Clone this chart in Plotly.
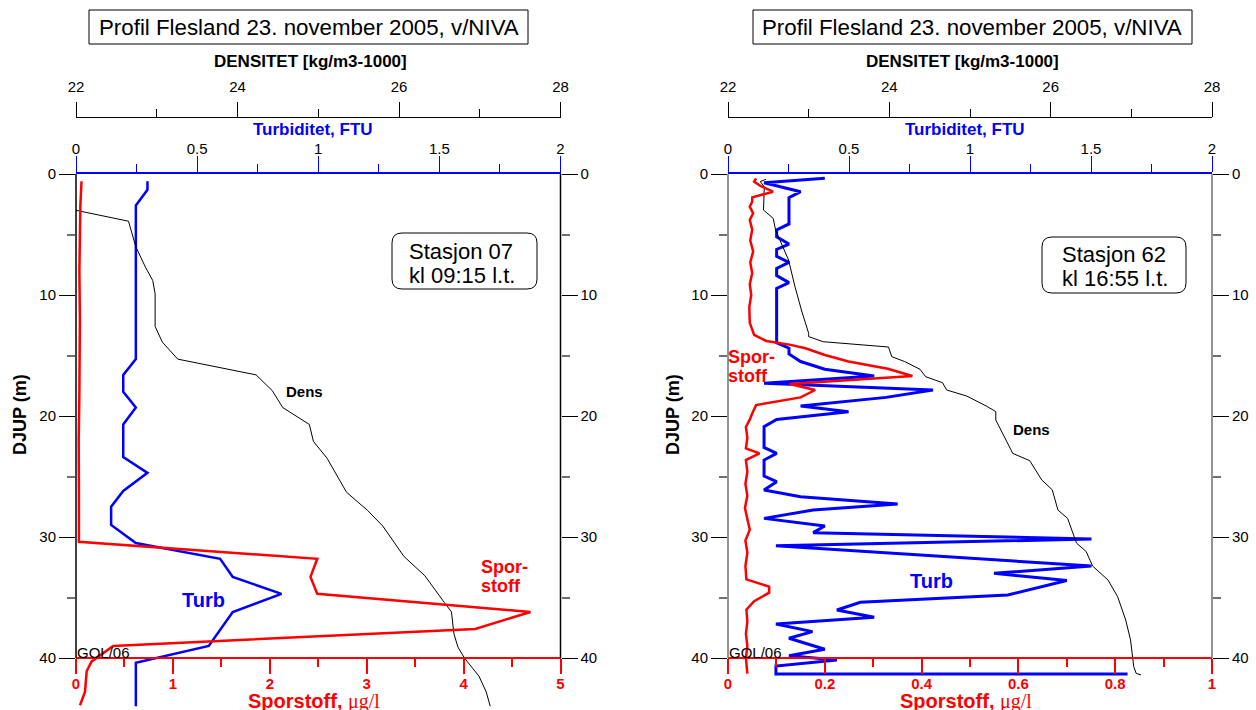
import plotly.graph_objects as go

W, H = 1256, 710
FONT = "Liberation Sans, Arial, sans-serif"

# Stasjon 07 (kl 09:15)
dens_depth_07 = [0.6, 1.2, 2.6, 3.9, 6.0, 7.7, 8.8, 9.9, 12.6, 13.9, 15.3, 16.6, 17.9, 19.3, 20.7,
                 22.1, 23.5, 26.3, 27.8, 29.1, 31.6, 33.2, 35.4, 36.2, 38.0, 39.1, 40.0, 41.5, 42.8, 44.0]
dens_07 = [21.93, 21.93, 21.71, 22.65, 22.74, 22.86, 22.95, 22.98, 22.98, 23.07, 23.26, 24.23, 24.43, 24.56, 24.89,
           24.94, 25.11, 25.35, 25.61, 25.80, 26.06, 26.32, 26.56, 26.65, 26.68, 26.73, 26.81, 26.99, 27.08, 27.13]

turb_depth_07 = [0.6, 1.3, 2.6, 15.3, 16.6, 18.0, 19.3, 20.7, 23.4, 24.7, 26.2, 27.5, 29.0, 30.5,
                 31.8, 33.3, 34.7, 36.2, 39.0, 40.4, 44.0]
turb_07 = [0.295, 0.295, 0.247, 0.247, 0.195, 0.195, 0.247, 0.195, 0.195, 0.295, 0.195, 0.145, 0.145, 0.247,
           0.595, 0.647, 0.848, 0.647, 0.548, 0.247, 0.247]

spor_depth_07 = [0.6, 2.6, 8.0, 12.0, 18.0, 22.0, 26.0, 30.4, 31.8, 33.3, 34.7, 36.2, 37.6, 39.0,
                 40.3, 41.1, 42.8, 43.9]
spor_07 = [0.057, 0.045, 0.035, 0.040, 0.035, 0.028, 0.030, 0.030, 2.49, 2.42, 2.49, 4.69, 4.12, 0.383,
           0.16, 0.11, 0.093, 0.041]

# Stasjon 62 (kl 16:55)
dens_depth_62 = [0.44, 0.63, 1.05, 2.98, 3.66, 4.63, 7.1, 9.3, 11.24, 13.17, 13.44, 13.86, 14.3, 15.1,
                 15.5, 16.14, 16.75, 17.25, 17.85, 18.35, 19.17, 19.64, 20.33, 21.7, 23.09, 23.69, 25.29,
                 26.1, 27.77, 28.46, 30.5, 31.2, 32.4, 33.55, 34.93, 36.86, 38.5, 40.72, 41.27, 41.4]
dens_62 = [22.47, 22.40, 22.45, 22.44, 22.56, 22.59, 22.75, 22.83, 22.91, 23.0, 23.0, 23.18, 23.99, 24.03,
           24.19, 24.38, 24.45, 24.66, 24.71, 24.96, 25.2, 25.32, 25.32, 25.42, 25.53, 25.74, 25.89,
           26.02, 26.09, 26.21, 26.32, 26.44, 26.52, 26.71, 26.83, 26.93, 26.99, 27.03, 27.06, 27.12]

turb_depth_62 = [0.36, 0.72, 1.46, 1.96, 4.13, 4.63, 5.2, 5.79, 6.23, 6.8, 7.3, 7.8, 8.4, 8.98, 9.45,
                 13.94, 14.4, 14.88, 15.5, 16.14, 16.7, 17.3, 17.85, 18.46, 19.17, 19.64, 20.28, 20.88,
                 22.6, 23.09, 23.64, 24.96, 25.43, 26.12, 26.67, 27.27, 27.77, 28.46, 29.09, 29.64, 30.17,
                 30.72, 32.4, 33.0, 33.6, 34.8, 35.4, 36.03, 36.64, 37.19, 37.82, 38.37, 39.28, 39.81,
                 40.17, 40.66, 41.32, 41.32]
turb_62 = [0.40, 0.149, 0.30, 0.252, 0.252, 0.201, 0.201, 0.252, 0.201, 0.201, 0.252, 0.201, 0.201, 0.252, 0.201,
           0.201, 0.252, 0.252, 0.30, 0.40, 0.604, 0.149, 0.847, 0.653, 0.30, 0.498, 0.201, 0.149,
           0.149, 0.201, 0.149, 0.149, 0.201, 0.149, 0.30, 0.701, 0.352, 0.149, 0.40, 0.352, 1.502,
           0.198, 1.502, 1.099, 1.40, 1.156, 0.547, 0.45, 0.604, 0.198, 0.349, 0.252, 0.40, 0.252,
           0.45, 0.198, 0.198, 1.651]

spor_depth_62 = [0.36, 0.63, 0.99, 1.46, 1.93, 2.29, 2.7, 3.25, 3.8, 4.6, 5.5, 6.4, 7.3, 8.2, 9.1, 10.0,
                 11.0, 12.3, 13.3, 13.8, 14.1, 14.4, 14.96, 15.5, 16.1, 16.7, 17.36, 17.85, 18.46, 19.1,
                 19.8, 20.3, 20.9, 21.8, 22.67, 23.09, 23.64, 24.6, 25.6, 26.6, 27.6, 28.5, 29.4, 30.3,
                 31.3, 32.4, 33.5, 34.1, 34.6, 35.3, 36.0, 37.0, 38.0, 39.0, 40.0, 41.3]
spor_62 = [0.058, 0.054, 0.067, 0.093, 0.050, 0.050, 0.045, 0.052, 0.045, 0.050, 0.046, 0.052, 0.046, 0.050,
           0.045, 0.048, 0.044, 0.045, 0.054, 0.079, 0.127, 0.16, 0.20, 0.249, 0.33, 0.381, 0.127, 0.18,
           0.150, 0.058, 0.050, 0.045, 0.037, 0.040, 0.037, 0.065, 0.037, 0.040, 0.036, 0.040, 0.035,
           0.040, 0.045, 0.036, 0.040, 0.036, 0.038, 0.085, 0.085, 0.054, 0.038, 0.040, 0.037, 0.040,
           0.037, 0.040]

depth_ticks = [0, 10, 20, 30, 40]
depth_minor = [5, 15, 25, 35]


def px(x):
    return x / W


def py(y):
    return 1 - y / H


def nm(ax, k):
    return ax if k == 1 else f"{ax}{k}"


def key(ax, k):
    return f"{ax}axis" if k == 1 else f"{ax}axis{k}"


fig = go.Figure()
layout = {}
shapes = []
annotations = []


def ann(text, x, y, size, color="black", bold=False, xanchor="center", angle=0):
    if bold:
        text = f"<b>{text}</b>"
    annotations.append(dict(text=text, x=px(x), y=py(y), xref="paper", yref="paper",
                            showarrow=False, xanchor=xanchor, yanchor="middle", textangle=angle,
                            font=dict(family=FONT, size=size, color=color)))


def rounded(x0, y0, x1, y1, r):
    pts = (f"M{px(x0 + r)},{py(y0)} L{px(x1 - r)},{py(y0)} Q{px(x1)},{py(y0)} {px(x1)},{py(y0 + r)} "
           f"L{px(x1)},{py(y1 - r)} Q{px(x1)},{py(y1)} {px(x1 - r)},{py(y1)} "
           f"L{px(x0 + r)},{py(y1)} Q{px(x0)},{py(y1)} {px(x0)},{py(y1 - r)} "
           f"L{px(x0)},{py(y0 + r)} Q{px(x0)},{py(y0)} {px(x0 + r)},{py(y0)} Z")
    shapes.append(dict(type="path", path=pts, xref="paper", yref="paper",
                       line=dict(color="black", width=1), fillcolor="white", layer="below"))


def panel(n, x0, x1, dd, dv, td, tv, sd, sv, smax, sdt, frame, tw):
    kx, ky = 3 * n + 1, 2 * n + 1
    xt, xd, xs = nm("x", kx), nm("x", kx + 1), nm("x", kx + 2)
    yl, yr = nm("y", ky), nm("y", ky + 1)
    dom = [px(x0), px(x1)]
    ydom = [py(174 + 44 * 12.1), py(174)]

    fig.add_trace(go.Scatter(x=dv, y=dd, xaxis=xd, yaxis=yl, mode="lines",
                             line=dict(color="black", width=1), showlegend=False))
    fig.add_trace(go.Scatter(x=sv, y=sd, xaxis=xs, yaxis=yr, mode="lines",
                             line=dict(color="#ff0000", width=2.5), showlegend=False))
    fig.add_trace(go.Scatter(x=tv, y=td, xaxis=xt, yaxis=yl, mode="lines",
                             line=dict(color="#0000ff", width=tw), showlegend=False))

    tick = dict(family=FONT, size=15, color="black")
    layout[key("x", kx)] = dict(
        domain=dom, range=[0, 2], side="top", anchor=yl, automargin=False,
        tickmode="array", tickvals=[0, 0.5, 1, 1.5, 2], ticktext=["0", "0.5", "1", "1.5", "2"],
        ticks="outside", ticklen=16, tickcolor="#0000ff", tickwidth=1, ticklabelstandoff=-4,
        minor=dict(tickvals=[0.25, 0.75, 1.25, 1.75], ticks="outside", ticklen=8,
                   tickcolor="#0000ff", showgrid=False),
        showline=True, linecolor="#0000ff", linewidth=1.5, showgrid=False, zeroline=False,
        tickfont=tick)
    layout[key("x", kx + 1)] = dict(
        overlaying=xt, anchor="free", position=py(117), side="top", range=[22, 28], automargin=False,
        tickmode="array", tickvals=[22, 24, 26, 28], ticklabelstandoff=4,
        ticks="outside", ticklen=15, tickcolor="black",
        minor=dict(tickvals=[23, 25, 27], ticks="outside", ticklen=8, tickcolor="black", showgrid=False),
        showline=True, linecolor="black", linewidth=1, showgrid=False, zeroline=False, tickfont=tick)
    svals = [round(i * sdt, 2) for i in range(int(round(smax / sdt)) + 1)]
    layout[key("x", kx + 2)] = dict(
        overlaying=xt, anchor="free", position=py(658), side="bottom", range=[0, smax], automargin=False,
        tickmode="array", tickvals=svals, ticktext=[f"{v:g}" for v in svals], ticklabelstandoff=-3,
        ticks="outside", ticklen=15, tickcolor="#ff0000", tickwidth=1.5,
        minor=dict(tickvals=[round(v + sdt / 2, 3) for v in svals[:-1]], ticks="outside", ticklen=8,
                   tickcolor="#ff0000", tickwidth=1.5, showgrid=False),
        showline=True, linecolor="#ff0000", linewidth=1.5, showgrid=False, zeroline=False,
        tickfont=dict(family=FONT, size=15, color="#ff0000", weight="bold"))
    yax = dict(range=[44, 0], tickmode="array", tickvals=depth_ticks, automargin=False,
               ticks="outside", ticklen=16, tickcolor="black",
               minor=dict(tickvals=depth_minor, ticks="outside", ticklen=8, tickcolor="#707070",
                          tickwidth=2, showgrid=False),
               showline=False, showgrid=False, zeroline=False, tickfont=tick)
    layout[key("y", ky)] = dict(yax, domain=ydom, anchor=xt, side="left")
    layout[key("y", ky + 1)] = dict(yax, overlaying=yl, anchor=xt, side="right")

    for xv in (0, 1):
        shapes.append(dict(type="line", xref=f"{xt} domain", yref=yl, x0=xv, x1=xv, y0=0, y1=40,
                           line=dict(color=frame, width=1.5)))


panel(0, 76, 560.5, dens_depth_07, dens_07, turb_depth_07, turb_07, spor_depth_07, spor_07,
      5, 1, "black", 2.5)
panel(1, 728, 1212, dens_depth_62, dens_62, turb_depth_62, turb_62, spor_depth_62, spor_62,
      1, 0.2, "#707070", 3)

sub = "Sporstoff, <span style='font-family:Liberation Serif;font-weight:normal'>μg/l</span>"
for box, cx, tx in (((89, 528), 310, 308.5), ((753, 1192), 962, 972)):
    shapes.append(dict(type="rect", xref="paper", yref="paper",
                       x0=px(box[0]), x1=px(box[1]), y0=py(44), y1=py(10),
                       line=dict(color="black", width=1)))
    ann("Profil Flesland 23. november 2005, v/NIVA", tx, 28, 22.3)
    ann("DENSITET [kg/m3-1000]", cx, 61, 17, bold=True)
    ann("Turbiditet, FTU", cx + 2.5, 130, 17, color="#0000ff", bold=True)
    ann(f"<b>{sub}</b>", cx + 4, 701, 20, color="#ff0000")

ann("DJUP (m)", 20, 415, 18, bold=True, angle=-90)
ann("DJUP (m)", 673, 415, 18, bold=True, angle=-90)

rounded(392, 233, 537, 289, 10)
ann("Stasjon 07", 407, 252, 22, xanchor="left")
ann("kl 09:15 l.t.", 407, 276, 22, xanchor="left")
rounded(1042, 237, 1186, 293, 10)
ann("Stasjon 62", 1060, 255, 22, xanchor="left")
ann("kl 16:55 l.t.", 1060, 279, 22, xanchor="left")

ann("Dens", 284, 391, 15, bold=True, xanchor="left")
ann("Turb", 180, 600, 20, color="#0000ff", bold=True, xanchor="left")
ann("Spor-", 479, 567, 18, color="#ff0000", bold=True, xanchor="left")
ann("stoff", 479, 586, 18, color="#ff0000", bold=True, xanchor="left")
ann("GOL/06", 75, 652, 15, xanchor="left")

ann("Dens", 1011, 429, 15, bold=True, xanchor="left")
ann("Turb", 908, 581, 20, color="#0000ff", bold=True, xanchor="left")
ann("Spor-", 726, 357, 18, color="#ff0000", bold=True, xanchor="left")
ann("stoff", 726, 376, 18, color="#ff0000", bold=True, xanchor="left")
ann("GOL/06", 727, 652, 15, xanchor="left")

fig.update_layout(
    width=W, height=H, margin=dict(l=0, r=0, t=0, b=0),
    paper_bgcolor="white", plot_bgcolor="white", showlegend=False,
    font=dict(family=FONT, size=15, color="black"),
    shapes=shapes, annotations=annotations, **layout)

# the page body has a default 8px margin; drop it so the figure sits at the window's corner
fig.write_html("out.html", config={"displayModeBar": False},
               post_script="document.body.style.margin='0px';")
